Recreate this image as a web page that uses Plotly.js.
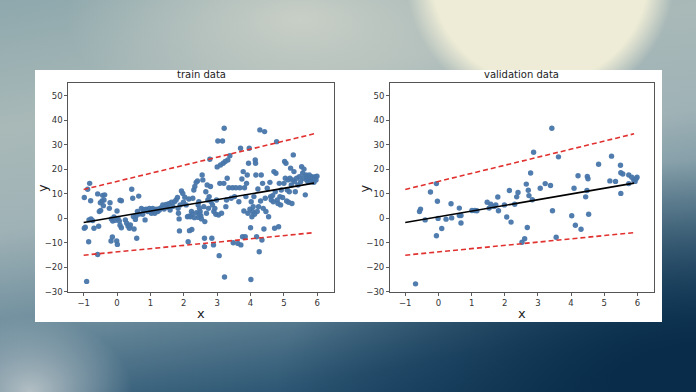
<!DOCTYPE html>
<html>
<head>
<meta charset="utf-8">
<script src="https://cdn.plot.ly/plotly-3.0.1.min.js"></script>
<style>
html,body{margin:0;padding:0;width:696px;height:392px;overflow:hidden;}
body{
  background:
    radial-gradient(ellipse 135px 135px at 540px -25px, rgba(238,236,214,1) 80%, rgba(238,236,214,0) 100%),
    radial-gradient(ellipse 120px 90px at 30px 392px, rgba(185,196,200,0.95), rgba(185,196,200,0) 85%),
    radial-gradient(ellipse 420px 230px at 696px 392px, rgba(8,44,74,1) 20%, rgba(8,44,74,0) 100%),
    radial-gradient(ellipse 260px 120px at 300px 20px, rgba(205,210,200,0.9), rgba(205,210,200,0) 90%),
    linear-gradient(170deg, #8ea8ad 0%, #a9b9b8 25%, #9fb2b6 45%, #6c8c9c 65%, #2e5875 85%, #16405e 100%);
}
#plot{position:absolute;left:35px;top:70px;width:627px;height:252px;}
</style>
</head>
<body>
<div id="plot"></div>
<script>
// ---- data ----
const trainX = [-0.98,-0.98,-0.95,-0.91,-0.88,-0.82,-0.84,-0.85,-0.79,-0.78,-0.73,-0.69,-0.58,-0.58,-0.55,-0.53,-0.5,-0.49,-0.43,-0.39,-0.37,-0.45,-0.41,-0.23,-0.21,-0.17,-0.13,-0.18,-0.14,-0.09,-0.05,-0.01,0.01,0.0,0.03,0.09,0.13,0.07,0.09,0.13,
0.25,0.29,0.33,0.37,0.4,0.44,0.47,0.49,0.51,0.55,0.59,0.57,0.61,0.65,0.67,0.73,0.77,0.79,0.84,0.87,0.92,0.97,1.01,1.03,1.07,
1.13,1.17,1.22,1.27,1.32,1.37,1.41,1.47,1.51,1.55,1.59,1.63,1.67,1.72,1.77,1.81,1.83,1.84,1.86,1.87,1.89,1.93,1.97,1.99,2.03,2.07,2.11,2.13,2.15,2.17,2.2,2.23,2.24,2.27,2.3,2.33,2.37,2.41,
2.43,2.44,2.45,2.47,2.49,2.51,2.53,2.55,2.57,2.6,2.62,2.62,2.63,2.66,2.68,2.7,2.72,2.74,2.76,2.78,2.8,2.82,2.84,2.86,2.89,2.9,2.93,2.96,2.98,3.0,3.02,3.04,3.06,3.08,3.1,3.13,3.16,3.18,3.2,3.21,3.22,3.24,3.26,3.28,3.3,3.32,3.35,3.38,3.42,3.46,3.48,3.52,3.56,3.62,3.65,3.68,3.7,3.71,3.74,3.76,3.78,3.8,3.82,3.84,3.86,3.88,3.9,3.92,3.94,3.96,3.98,
4.0,4.01,4.02,4.04,4.06,4.08,4.1,4.12,4.14,4.15,4.16,4.18,4.2,4.22,4.24,4.26,4.28,4.3,4.32,4.34,4.36,4.38,4.4,4.42,4.44,4.46,4.5,4.54,4.58,4.6,4.62,4.66,4.68,4.7,4.72,4.74,4.76,4.78,4.8,4.82,4.84,4.86,4.88,4.9,4.92,4.96,
5.0,5.02,5.04,5.06,5.08,5.1,5.12,5.14,5.16,5.18,5.2,5.22,5.24,5.26,5.28,5.3,5.32,5.34,5.38,5.42,5.46,5.5,5.53,5.56,5.58,5.6,5.64,5.66,5.68,5.7,5.72,5.74,5.76,5.78,5.8,5.82,5.84,5.86,5.88,5.9,5.92,5.94,5.96,5.99,
2.15,2.25,2.32,2.38,2.46,1.05,1.15,0.82,0.95,1.25];
const trainY = [8.4,-4.1,-3.7,-25.8,11.8,14.2,-0.7,-9.6,7.1,-0.3,-1.0,-4.1,-14.8,9.9,-3.3,2.7,6.3,3.1,9.3,7.4,9.5,7.0,5.1,4.0,6.3,-0.3,-1.2,-9.3,-7.7,0.5,-0.9,-9.3,-10.7,2.9,-0.1,7.3,7.1,-1.2,-2.9,-3.9,
-0.7,-2.1,-3.2,-4.1,-2.8,11.8,8.1,0.7,-4.4,-0.5,-8.2,0.9,2.7,9.0,1.7,4.0,1.6,3.2,-0.7,3.7,2.7,4.0,2.9,2.0,4.0,
2.0,3.7,2.7,3.3,4.3,5.4,3.7,5.6,4.4,5.9,3.3,6.5,4.8,6.7,7.4,8.4,4.0,2.0,-0.3,-5.2,5.4,11.1,10.1,6.5,8.5,5.4,0.6,-9.6,7.8,-5.1,0.6,2.7,-4.6,8.1,11.5,12.9,14.6,15.2,
5.4,0.3,6.7,4.0,2.7,1.0,-0.3,17.6,15.6,4.7,-8.2,-11.6,-1.4,10.8,2.0,13.5,7.4,4.0,8.8,24.0,12.9,6.7,-8.2,5.4,-10.9,2.7,4.0,1.6,7.4,20.9,31.5,1.3,-15.3,14.2,21.7,2.0,31.5,22.4,14.2,36.7,-24.0,23.1,4.7,7.4,16.3,23.7,12.4,25.5,8.1,12.4,-10.0,8.8,12.4,-10.3,6.7,12.4,28.5,-10.9,16.0,-7.6,19.0,2.9,12.4,-7.6,8.8,14.2,17.6,2.0,22.4,28.5,3.7,
-3.9,-25.0,6.7,0.6,2.7,4.7,8.8,1.6,23.7,22.4,17.6,-7.6,2.7,11.9,4.7,-13.7,36.0,7.0,17.6,-8.9,14.2,4.0,-4.4,35.3,8.1,2.7,12.2,0.6,14.6,8.8,7.4,9.2,6.7,19.0,-4.1,10.8,18.3,31.2,7.4,6.0,-3.5,14.2,8.8,5.4,11.5,8.4,
14.2,23.1,16.3,22.4,7.0,11.5,15.6,6.5,10.8,16.3,20.4,13.5,6.0,15.6,25.8,19.0,14.9,10.8,16.3,13.5,16.9,14.9,21.0,18.3,16.3,20.0,9.5,17.6,15.6,16.9,14.9,16.3,17.6,15.6,16.5,14.9,16.9,15.6,16.5,14.6,16.3,16.9,15.6,17.1,
0.8,1.5,0.2,2.2,1.8,3.3,3.0,3.5,2.8,3.8];
const valX = [-0.69,-0.57,-0.54,-0.4,-0.24,-0.06,-0.03,-0.06,-0.01,0.1,0.23,0.38,0.4,0.63,0.63,0.68,0.68,1.01,1.1,1.16,1.47,1.53,1.58,1.68,1.73,1.79,1.81,1.99,2.06,2.14,2.19,2.3,2.36,2.4,2.52,2.6,2.65,2.68,2.71,2.73,2.78,2.83,2.87,3.07,3.22,3.38,3.42,3.44,3.55,3.62,4.02,4.09,4.13,4.21,4.3,4.44,4.48,4.49,4.51,4.53,4.83,5.17,5.22,5.34,5.49,5.5,5.5,5.56,5.74,5.74,5.83,5.89,5.93,5.96,5.99];
const valY = [-26.8,2.7,3.7,-0.7,10.7,14.1,6.9,-7.2,-0.1,-4.2,-0.4,5.9,0.1,4.1,1.1,1.1,-2.0,3.1,3.1,3.0,6.5,4.1,5.7,4.8,5.4,8.6,3.0,5.4,0.5,11.3,-1.6,5.7,8.7,10.5,-9.8,-8.4,13.9,-3.8,11.4,9.2,18.4,7.5,26.9,12.2,14.1,13.3,36.7,3.0,-7.8,25.0,1.0,12.2,-2.9,17.3,-4.5,8.7,11.3,17.0,16.1,1.6,22.0,15.2,25.3,15.0,21.6,18.5,10.1,18.0,14.1,17.6,16.7,15.6,15.0,16.1,16.7];
const lineX = [-1, 5.9];
const fitY = [-1.8, 14.3];
const upperY = [11.7, 34.4];
const lowerY = [-15.1, -5.9];
const xTicks = [-1,0,1,2,3,4,5,6];
const yTicks = [-30,-20,-10,0,10,20,30,40,50];
const titles = ["train data", "validation data"];

// ---- styles ----
const dotColor = "rgba(72,118,170,0.95)";
const redColor = "#e0312f";
const font = "DejaVu Sans, sans-serif";

function panel(xs, ys, xa, ya) {
  return [
    {x: xs, y: ys, type: "scatter", mode: "markers", xaxis: xa, yaxis: ya,
     marker: {color: dotColor, size: 5.4}, hoverinfo: "skip"},
    {x: lineX, y: fitY, type: "scatter", mode: "lines", xaxis: xa, yaxis: ya,
     line: {color: "#000", width: 1.6}},
    {x: lineX, y: upperY, type: "scatter", mode: "lines", xaxis: xa, yaxis: ya,
     line: {color: redColor, width: 1.6, dash: "5px,3px"}},
    {x: lineX, y: lowerY, type: "scatter", mode: "lines", xaxis: xa, yaxis: ya,
     line: {color: redColor, width: 1.6, dash: "5px,3px"}}
  ];
}

const data = [].concat(panel(trainX, trainY, "x", "y"), panel(valX, valY, "x2", "y2"));

function xax(domain, anchor) {
  return {domain: domain, anchor: anchor, range: [-1.46, 6.5], tickvals: xTicks,
    ticks: "outside", ticklen: 3, tickwidth: 0.8, tickcolor: "#333",
    showline: true, mirror: true, linecolor: "#555", linewidth: 1,
    showgrid: false, zeroline: false, automargin: false,
    tickfont: {family: font, size: 8.5, color: "#333"}};
}
function yax(anchor) {
  return {domain: [0.1202, 0.9472], anchor: anchor, range: [-30, 55], tickvals: yTicks,
    ticks: "outside", ticklen: 3, tickwidth: 0.8, tickcolor: "#333",
    showline: true, mirror: true, linecolor: "#555", linewidth: 1,
    showgrid: false, zeroline: false, automargin: false,
    tickfont: {family: font, size: 8.5, color: "#333"}};
}

const d1 = [0.0531, 0.4769], d2 = [0.5662, 0.9872];
const layout = {
  width: 627, height: 252,
  margin: {l: 0, r: 0, t: 0, b: 0},
  paper_bgcolor: "#fff", plot_bgcolor: "#fff",
  showlegend: false,
  xaxis: xax(d1, "y"), yaxis: yax("x"),
  xaxis2: xax(d2, "y2"), yaxis2: yax("x2"),
  annotations: [
    {text: titles[0], xref: "paper", yref: "paper", x: (d1[0]+d1[1])/2, y: 0.952, xanchor: "center", yanchor: "bottom", showarrow: false, font: {family: font, size: 10, color: "#222"}},
    {text: titles[1], xref: "paper", yref: "paper", x: (d2[0]+d2[1])/2, y: 0.952, xanchor: "center", yanchor: "bottom", showarrow: false, font: {family: font, size: 10, color: "#222"}},
    {text: "x", xref: "paper", yref: "paper", x: (d1[0]+d1[1])/2, y: 0.035, xanchor: "center", yanchor: "middle", showarrow: false, font: {family: font, size: 13, color: "#222"}},
    {text: "x", xref: "paper", yref: "paper", x: (d2[0]+d2[1])/2, y: 0.035, xanchor: "center", yanchor: "middle", showarrow: false, font: {family: font, size: 13, color: "#222"}},
    {text: "y", xref: "paper", yref: "paper", x: 0.012, y: 0.53, xanchor: "center", yanchor: "middle", textangle: -90, showarrow: false, font: {family: font, size: 13, color: "#222"}},
    {text: "y", xref: "paper", yref: "paper", x: 0.525, y: 0.53, xanchor: "center", yanchor: "middle", textangle: -90, showarrow: false, font: {family: font, size: 13, color: "#222"}}
  ]
};

Plotly.newPlot("plot", data, layout, {staticPlot: true, displayModeBar: false});
</script>
</body>
</html>
